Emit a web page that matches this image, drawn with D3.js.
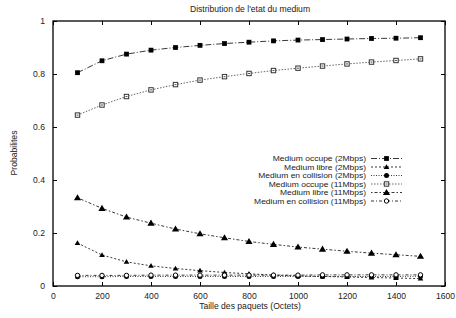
<!DOCTYPE html>
<html>
<head>
<meta charset="utf-8">
<script src="https://cdn.jsdelivr.net/npm/d3@7.9.0/dist/d3.min.js"></script>
<style>
  body { margin: 0; background: #fff; }
  svg { font-family: "Liberation Sans", Arial, sans-serif; }
</style>
</head>
<body>
<svg width="456" height="318"></svg>
<script>
// packet sizes (octets)
const sizes = [100, 200, 300, 400, 500, 600, 700, 800, 900, 1000, 1100, 1200, 1300, 1400, 1500];

const occupe2 = [0.805, 0.85, 0.875, 0.89, 0.9, 0.908, 0.915, 0.92, 0.925, 0.928, 0.93, 0.932, 0.934, 0.935, 0.937];
const libre2 = [0.162, 0.117, 0.091, 0.076, 0.066, 0.058, 0.051, 0.046, 0.041, 0.038, 0.036, 0.034, 0.032, 0.030, 0.028];
const collision2 = [0.035, 0.035, 0.036, 0.036, 0.036, 0.036, 0.036, 0.036, 0.036, 0.036, 0.036, 0.036, 0.036, 0.036, 0.037];
const occupe11 = [0.645, 0.683, 0.715, 0.74, 0.76, 0.777, 0.79, 0.802, 0.813, 0.822, 0.83, 0.838, 0.845, 0.851, 0.857];
const libre11 = [0.333, 0.293, 0.26, 0.237, 0.215, 0.197, 0.182, 0.168, 0.157, 0.147, 0.139, 0.131, 0.124, 0.118, 0.112];
const collision11 = [0.04, 0.04, 0.04, 0.041, 0.041, 0.041, 0.041, 0.041, 0.041, 0.041, 0.042, 0.042, 0.042, 0.042, 0.042];

const xTicks = [0, 200, 400, 600, 800, 1000, 1200, 1400, 1600];
const yTicks = [0, 0.2, 0.4, 0.6, 0.8, 1];

const series = [
  { name: 'Medium occupe (2Mbps)', values: occupe2, dash: '6,2,1,2', mark: 'square', color: '#222' },
  { name: 'Medium libre (2Mbps)', values: libre2, dash: '2,2', mark: 'tri', color: '#222', size: 2.8 },
  { name: 'Medium en collision (2Mbps)', values: collision2, dash: '1,1.5', mark: 'circle', color: '#222' },
  { name: 'Medium occupe (11Mbps)', values: occupe11, dash: '1.5,1.5', mark: 'osquare', color: '#555' },
  { name: 'Medium libre (11Mbps)', values: libre11, dash: '1.5,2,3,2', mark: 'tri', color: '#222', size: 3.6 },
  { name: 'Medium en collision (11Mbps)', values: collision11, dash: '3,2,1,2', mark: 'ocircle', color: '#222' }
];

const margin = { left: 53, right: 11, top: 21, bottom: 32 };
const W = 456, H = 318;
const fs = 8.6;
const svg = d3.select('svg');

let x = d3.scaleLinear().domain([0, 1600]).range([margin.left, W - margin.right]);
let y = d3.scaleLinear().domain([0, 1]).range([H - margin.bottom, margin.top]);

// title + axis labels
svg.append('text').attr('x', 250).attr('y', 12).attr('text-anchor', 'middle')
  .attr('font-size', fs).attr('fill', '#222').text("Distribution de l'etat du medium");
svg.append('text').attr('x', 250).attr('y', 309).attr('text-anchor', 'middle')
  .attr('font-size', fs).attr('fill', '#222').text('Taille des paquets (Octets)');
svg.append('text').attr('transform', 'translate(17,153) rotate(-90)').attr('text-anchor', 'middle')
  .attr('font-size', fs).attr('fill', '#222').text('Probabilites');

// ticks on all sides (gnuplot style, inward)
const tickLen = 4;
const bottomAxis = d3.axisBottom(x).tickValues(xTicks).tickSizeInner(-tickLen).tickSizeOuter(0).tickPadding(7)
  .tickFormat(d3.format('d'));
const topAxis = d3.axisTop(x).tickValues(xTicks).tickSizeInner(-tickLen).tickSizeOuter(0).tickFormat('');
const leftAxis = d3.axisLeft(y).tickValues(yTicks).tickSizeInner(-tickLen).tickSizeOuter(0).tickPadding(8)
  .tickFormat(d3.format('~g'));
const rightAxis = d3.axisRight(y).tickValues(yTicks).tickSizeInner(-tickLen).tickSizeOuter(0).tickFormat('');

function styleAxis(g) {
  g.select('.domain').remove();
  g.selectAll('line').attr('stroke', '#000');
  g.selectAll('text').attr('font-size', fs).attr('fill', '#222').attr('font-family', '"Liberation Sans", Arial, sans-serif');
}
svg.append('g').attr('transform', `translate(0,${y(0)})`).call(bottomAxis).call(styleAxis);
svg.append('g').attr('transform', `translate(0,${y(1)})`).call(topAxis).call(styleAxis);
svg.append('g').attr('transform', `translate(${x(0)},0)`).call(leftAxis).call(styleAxis);
svg.append('g').attr('transform', `translate(${x(1600)},0)`).call(rightAxis).call(styleAxis);

svg.append('rect').attr('x', x(0)).attr('y', y(1)).attr('width', x(1600) - x(0)).attr('height', y(0) - y(1))
  .attr('fill', 'none').attr('stroke', '#000').attr('stroke-width', 1.3);

function drawMark(g, s, cx, cy) {
  if (s.mark === 'square') {
    g.append('rect').attr('x', cx - 2.4).attr('y', cy - 2.4).attr('width', 4.8).attr('height', 4.8).attr('fill', '#000');
  } else if (s.mark === 'osquare') {
    g.append('rect').attr('x', cx - 2.2).attr('y', cy - 2.2).attr('width', 4.4).attr('height', 4.4)
      .attr('fill', '#fff').attr('stroke', '#333').attr('stroke-width', 1);
    g.append('line').attr('x1', cx - 1).attr('x2', cx + 1).attr('y1', cy).attr('y2', cy).attr('stroke', '#555');
  } else if (s.mark === 'tri') {
    const r = s.size;
    g.append('path').attr('d', `M${cx},${cy - r}L${cx + r},${cy + r * 0.7}L${cx - r},${cy + r * 0.7}Z`)
      .attr('fill', '#000');
  } else if (s.mark === 'circle') {
    g.append('circle').attr('cx', cx).attr('cy', cy).attr('r', 2.5).attr('fill', '#000');
  } else if (s.mark === 'ocircle') {
    g.append('circle').attr('cx', cx).attr('cy', cy).attr('r', 2.2).attr('fill', '#fff')
      .attr('stroke', '#000').attr('stroke-width', 1);
  }
}

const line = d3.line().x((d, i) => x(sizes[i])).y(d => y(d));

series.forEach(s => {
  svg.append('path').datum(s.values).attr('d', line).attr('fill', 'none')
    .attr('stroke', s.color).attr('stroke-width', 0.9).attr('stroke-dasharray', s.dash);
});
series.forEach(s => {
  const g = svg.append('g');
  s.values.forEach((v, i) => drawMark(g, s, x(sizes[i]), y(v)));
});

// legend (text slightly stretched horizontally so rows don't collide)
series.forEach((s, i) => {
  const ly = 158.5 + i * 8.5;
  svg.append('text').attr('transform', `translate(366,${ly + 2.7}) scale(1.13,1)`).attr('text-anchor', 'end')
    .attr('font-size', 7.5).attr('fill', '#222').text(s.name);
  svg.append('line').attr('x1', 371).attr('x2', 402).attr('y1', ly).attr('y2', ly)
    .attr('stroke', s.color).attr('stroke-width', 0.9).attr('stroke-dasharray', s.dash);
  drawMark(svg, s, 386.5, ly);
});
</script>
</body>
</html>
